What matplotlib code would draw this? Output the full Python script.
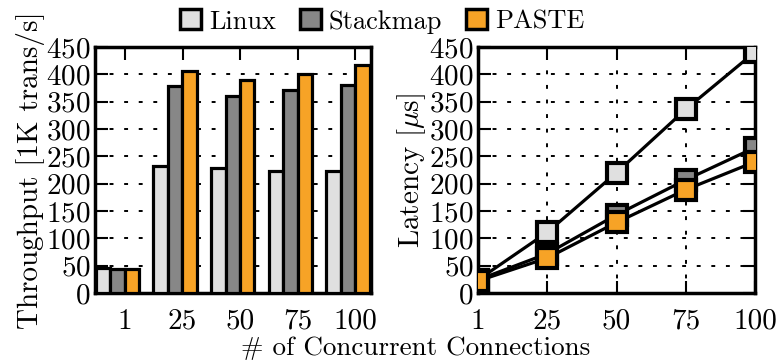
import matplotlib
matplotlib.use("Agg")
import matplotlib.pyplot as plt
from matplotlib.patches import Patch
import numpy as np

plt.rcParams['font.family'] = ['cmr10', 'DejaVu Serif']
plt.rcParams['mathtext.fontset'] = 'cm'
plt.rcParams['axes.formatter.use_mathtext'] = True

connections = ["1", "25", "50", "75", "100"]
series = ["Linux", "Stackmap", "PASTE"]
throughput_linux = [45, 233, 228, 224, 224]
throughput_stackmap = [43, 378, 361, 371, 380]
throughput_paste = [43, 407, 390, 401, 417]
latency_linux = [24, 111, 220, 336, 441]
latency_stackmap = [24, 72, 143, 207, 266]
latency_paste = [22, 64, 129, 189, 240]
yticks = [0, 50, 100, 150, 200, 250, 300, 350, 400, 450]

colors = ["#e0e0e0", "#878787", "#f7a326"]
FS = 21
LW = 2.3
GRID = (0, (2, 5.5))

fig = plt.figure(figsize=(7.77, 3.62), dpi=100)
ax1 = fig.add_axes([95/777, 69/362, 276/777, 246/362])
ax2 = fig.add_axes([478/777, 69/362, 277/777, 246/362])

x = np.arange(len(connections))
w = 0.25
c = -0.13
for k, (vals, col) in enumerate(zip([throughput_linux, throughput_stackmap, throughput_paste], colors)):
    ax1.bar(x + c + (k - 1) * w, vals, width=w, color=col, edgecolor="black",
            linewidth=LW, zorder=3)
ax1.set_xlim(-0.52, 4.27)
ax1.set_ylim(0, 450)
ax1.set_xticks(x)
ax1.set_xticklabels(connections)
ax1.set_yticks(yticks)
ax1.set_ylabel("Throughput [1K trans/s]", fontsize=FS, labelpad=1)
ax1.yaxis.grid(True, color="black", linestyle=GRID, linewidth=1.4, zorder=0)
ax1.tick_params(axis="both", direction="in", labelsize=FS, length=9, width=1.5,
                top=True, right=False)
ax1.tick_params(axis="x", pad=11)
ax1.tick_params(axis="y", pad=3)
ax1.set_axisbelow(True)

for vals, col in zip([latency_linux, latency_stackmap, latency_paste], colors):
    ax2.plot(x, vals, color="black", linewidth=LW, marker="s", markersize=15,
             markerfacecolor=col, markeredgecolor="black", markeredgewidth=3, zorder=3)
ax2.set_xlim(0, 4)
ax2.set_ylim(0, 450)
ax2.set_xticks(x)
ax2.set_xticklabels(connections)
ax2.set_yticks(yticks)
ax2.set_ylabel(r"Latency [$\mu$s]", fontsize=FS, labelpad=1)
ax2.grid(True, color="black", linestyle=GRID, linewidth=1.4, zorder=0)
ax2.tick_params(axis="both", direction="in", labelsize=FS, length=9, width=1.5,
                top=True, right=True)
ax2.tick_params(axis="x", pad=11)
ax2.tick_params(axis="y", pad=3)
ax2.set_axisbelow(True)

for ax in (ax1, ax2):
    for s in ax.spines.values():
        s.set_linewidth(2.5)

fig.text(0.535, 0.006, "# of Concurrent Connections", ha="center", va="bottom", fontsize=19.5)

handles = [Patch(facecolor=col, edgecolor="black", linewidth=2.5) for col in colors]
fig.legend(handles, series, loc="upper center", bbox_to_anchor=(0.492, 1.04), ncol=3,
           frameon=False, fontsize=19, handlelength=0.8, handleheight=0.8,
           handletextpad=0.3, columnspacing=0.9)

fig.savefig("out.png", dpi=100)
